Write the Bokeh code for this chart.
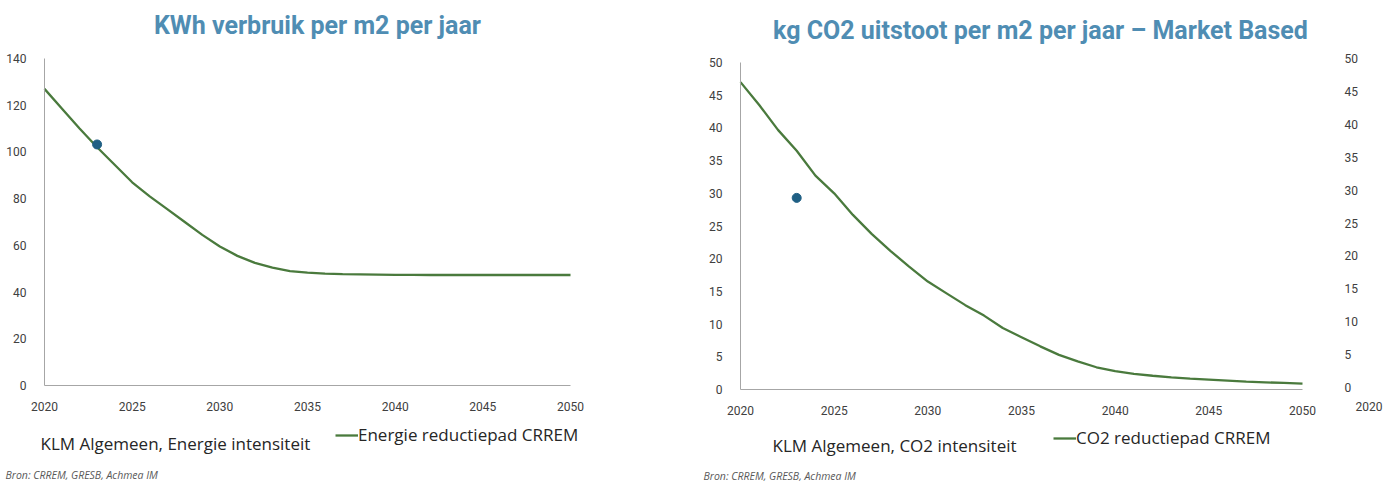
from bokeh.plotting import figure
from bokeh.models import (FixedTicker, Label, Legend, LegendItem, LinearAxis, Range1d)
from bokeh.layouts import row
from bokeh.embed import file_html
from bokeh.resources import INLINE

years = list(range(2020, 2051))
energie_crrem = [127, 118.5, 110, 102, 94.5, 87, 81, 75.5, 70, 64.5, 59.5, 55.5, 52.5,
                 50.5, 49, 48.3, 47.9, 47.7, 47.6, 47.5, 47.4, 47.4, 47.3, 47.3, 47.3,
                 47.3, 47.3, 47.3, 47.3, 47.3, 47.3]
co2_crrem = [47, 43.5, 39.7, 36.5, 32.7, 30.0, 26.7, 23.8, 21.2, 18.8, 16.5, 14.7, 12.9,
             11.3, 9.4, 8.0, 6.6, 5.3, 4.3, 3.4, 2.8, 2.4, 2.1, 1.85, 1.65, 1.5, 1.35,
             1.2, 1.1, 1.0, 0.9]
klm_year = [2023]
klm_energie = [103.2]
klm_co2 = [29.3]

x_ticks = [2020, 2025, 2030, 2035, 2040, 2045, 2050]
energie_ticks = [0, 20, 40, 60, 80, 100, 120, 140]
co2_ticks = [0, 5, 10, 15, 20, 25, 30, 35, 40, 45, 50]

TITLE_COLOR = "#4f8db3"
LINE_COLOR = "#4a7a3d"
DOT_COLOR = "#1f5f84"
AXIS_COLOR = "#a6a6a6"
TICK_COLOR = "#404040"
TEXT_COLOR = "#262626"
TICK_FONT = "Roboto"
LEG_FONT = "Open Sans"
H = 481
PAGE_TOP = 0


def span(v0, p0, v1, p1, pa, pb):
    """values at pixel positions pa and pb for the linear map v0->p0, v1->p1"""
    k = (v1 - v0) / (p1 - p0)
    return v0 + (pa - p0) * k, v0 + (pb - p0) * k


def style_axis(ax):
    ax.axis_line_color = AXIS_COLOR
    ax.major_tick_line_color = None
    ax.minor_tick_line_color = None
    ax.major_label_text_font = TICK_FONT
    ax.major_label_text_font_size = "12px"
    ax.major_label_text_color = TICK_COLOR


def make_fig(page_left, width, x_px, y_px, y_end, y_ticks_list):
    # x_px: page x of 2020 and 2050; y_px: page y of 0 and y_end
    xs, xe = span(2020, x_px[0], 2050, x_px[1], page_left, page_left + width)
    ys, ye = span(0, y_px[0], y_end, y_px[1], PAGE_TOP + H, PAGE_TOP)
    p = figure(width=width, height=H, output_backend="svg", toolbar_location=None,
               x_range=Range1d(xs, xe), y_range=Range1d(ys, ye),
               min_border=0, x_axis_location=None, y_axis_location=None)
    p.outline_line_color = None
    p.grid.visible = False
    xa = LinearAxis(ticker=FixedTicker(ticks=x_ticks), fixed_location=0,
                    bounds=(2020, 2050), major_label_standoff=10)
    ya = LinearAxis(ticker=FixedTicker(ticks=y_ticks_list), fixed_location=2020,
                    bounds=(0, y_end), major_label_standoff=12)
    style_axis(xa)
    style_axis(ya)
    p.add_layout(xa, "below")
    p.add_layout(ya, "left")
    return p


def label(p, x, y, text, size, align="left", font=LEG_FONT, style="normal",
          color=TEXT_COLOR):
    p.add_layout(Label(x=x, y=y, x_units="screen", y_units="screen", text=text,
                       text_align=align, text_baseline="middle", text_font=font,
                       text_font_style=style, text_font_size=size, text_color=color))


def legend(p, renderer, text, x, y):
    leg = Legend(items=[LegendItem(label=text, renderers=[renderer])],
                 location=(x, y), orientation="horizontal", padding=0, margin=0,
                 spacing=0, glyph_width=23, glyph_height=20, label_height=20,
                 label_standoff=0, label_text_font=LEG_FONT, label_text_font_size="17px",
                 label_text_color=TEXT_COLOR, background_fill_alpha=0,
                 border_line_color=None)
    p.add_layout(leg, "center")


# ---------------- left chart (page x 0 .. 694) ----------------
L0, W1 = 0, 694
p1 = make_fig(L0, W1, (44, 570), (385, 58), 140, energie_ticks)
l1 = p1.line(years, energie_crrem, line_color=LINE_COLOR, line_width=2.3)
p1.scatter(klm_year, klm_energie, size=9, color=DOT_COLOR)
label(p1, 317 - L0, PAGE_TOP + H - 25, "KWh verbruik per m2 per jaar", "25px",
      align="center", font="Roboto", style="bold", color=TITLE_COLOR)
label(p1, 40 - L0, PAGE_TOP + H - 443, "KLM Algemeen, Energie intensiteit", "17px")
label(p1, 5 - L0, PAGE_TOP + H - 474, "Bron: CRREM, GRESB, Achmea IM", "10.5px",
      style="italic", color="#595959")
legend(p1, l1, "Energie reductiepad CRREM", 335 - L0, PAGE_TOP + H - 446)

# ---------------- right chart (page x 694 .. 1384) ----------------
L1, W2 = 694, 690
p2 = make_fig(L1, W2, (740, 1302), (389, 62), 50, co2_ticks)
l2 = p2.line(years, co2_crrem, line_color=LINE_COLOR, line_width=2.3)
p2.scatter(klm_year, klm_co2, size=9, color=DOT_COLOR)

ss, se = span(0, 387, 50, 58, PAGE_TOP + H, PAGE_TOP)
p2.extra_y_ranges = {"sec": Range1d(ss, se)}
ax2 = LinearAxis(y_range_name="sec", ticker=FixedTicker(ticks=co2_ticks),
                 fixed_location=2050, bounds=(0, 50), major_label_standoff=36)
style_axis(ax2)
ax2.axis_line_color = None
p2.add_layout(ax2, "right")

label(p2, 1040 - L1, PAGE_TOP + H - 30, "kg CO2 uitstoot per m2 per jaar \u2013 Market Based",
      "25px", align="center", font="Roboto", style="bold", color=TITLE_COLOR)
label(p2, 1355 - L1, PAGE_TOP + H - 406, "2020", "12px", font=TICK_FONT, color=TICK_COLOR)
label(p2, 772 - L1, PAGE_TOP + H - 445, "KLM Algemeen, CO2 intensiteit", "17px")
label(p2, 703 - L1, PAGE_TOP + H - 475, "Bron: CRREM, GRESB, Achmea IM", "10.5px",
      style="italic", color="#595959")
legend(p2, l2, "CO2 reductiepad CRREM", 1053 - L1, PAGE_TOP + H - 449)

layout = row(p1, p2)
open("out.html", "w").write(file_html(layout, INLINE))
